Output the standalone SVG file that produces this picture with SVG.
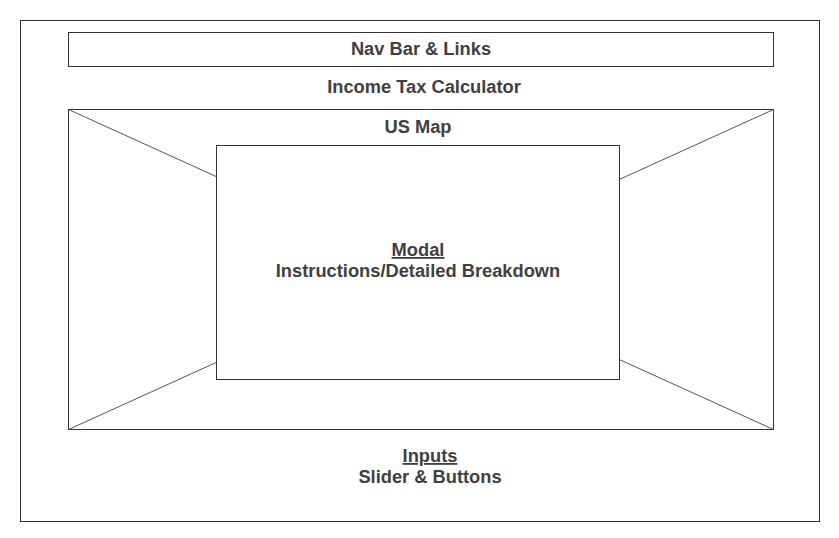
<svg xmlns="http://www.w3.org/2000/svg" width="839" height="538" viewBox="0 0 839 538">
<style>
.box{fill:#fff;stroke:#333;stroke-width:1}
.ln{stroke:#555;stroke-width:1;fill:none}
.t{font-family:"Liberation Sans",Arial,sans-serif;font-size:18.3px;font-weight:bold;fill:#404040;text-anchor:middle}
.u{text-decoration:underline}
</style>
<rect width="839" height="538" fill="#fff"/>
<g id="page"><rect class="box" x="20.5" y="20.5" width="799" height="501"/></g>
<g id="navbar"><rect class="box" x="68.5" y="32.5" width="705" height="34"/><text class="t" x="421" y="55">Nav Bar &amp; Links</text></g>
<g id="title"><text class="t" x="424" y="93">Income Tax Calculator</text></g>
<g id="map"><rect class="box" x="68.5" y="109.5" width="705" height="320"/>
<g class="connectors"><line class="ln" x1="68.5" y1="109.5" x2="773.5" y2="429.5"/><line class="ln" x1="773.5" y1="109.5" x2="68.5" y2="429.5"/></g>
<text class="t" x="418" y="133">US Map</text></g>
<g id="modal"><rect class="box" x="216.5" y="145.5" width="403" height="234"/><text class="t" x="418" y="256"><tspan class="u">Modal</tspan></text><text class="t" x="418" y="277">Instructions/Detailed Breakdown</text></g>
<g id="inputs"><text class="t" x="430" y="462"><tspan class="u">Inputs</tspan></text><text class="t" x="430" y="483">Slider &amp; Buttons</text></g>
</svg>
